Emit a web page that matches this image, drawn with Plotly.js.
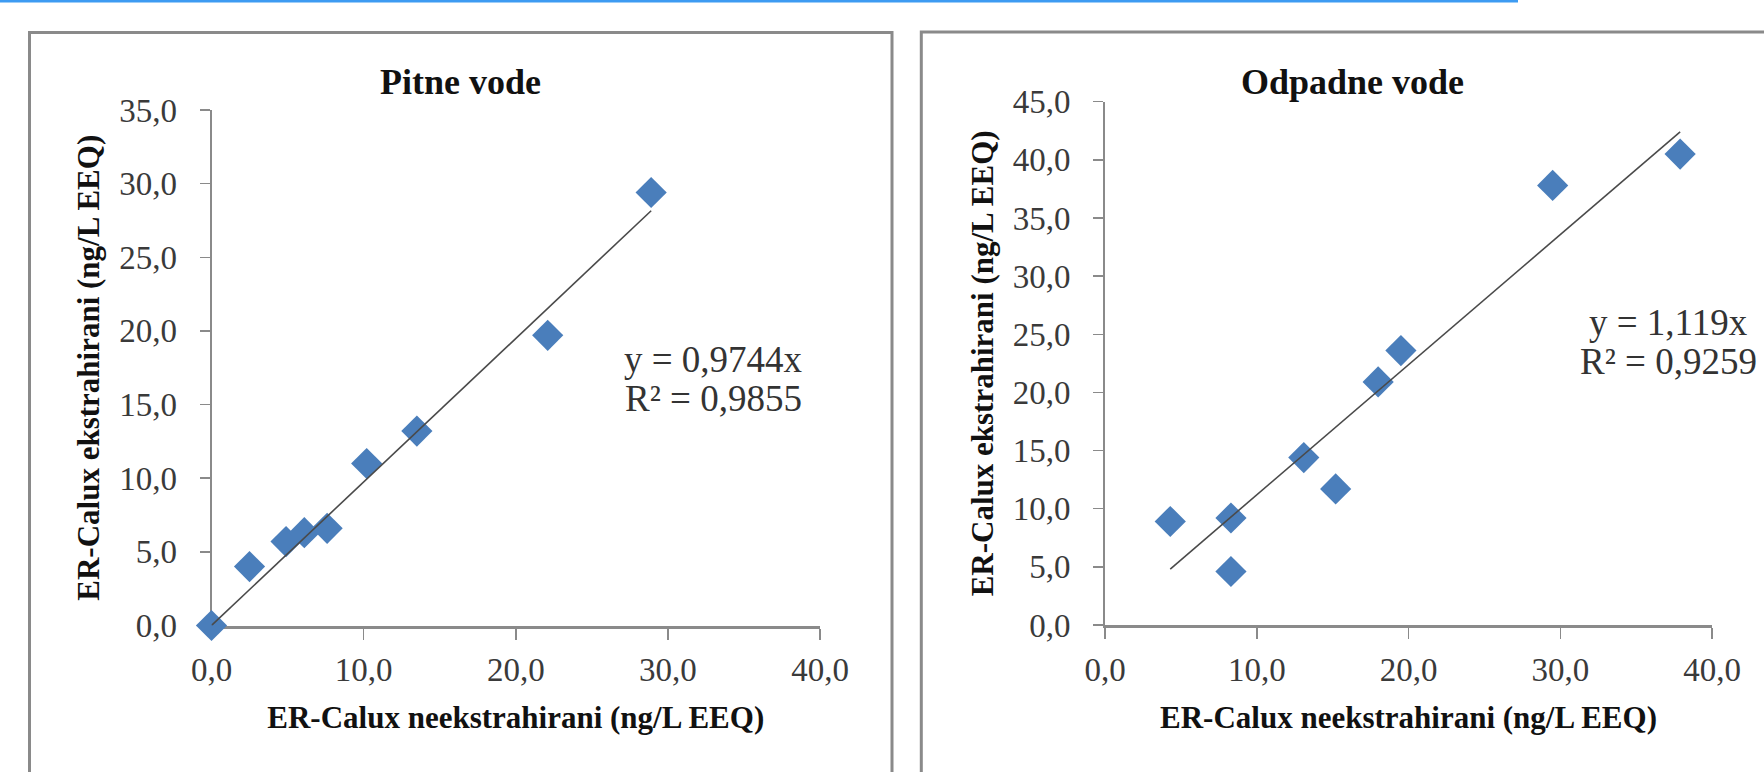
<!DOCTYPE html>
<html>
<head>
<meta charset="utf-8">
<script src="https://cdn.plot.ly/plotly-3.0.1.min.js"></script>
<style>html,body{margin:0;padding:0;background:#fff;}#chart{width:1764px;height:772px;}</style>
</head>
<body>
<div id="chart"></div>
<script>
// ---- data ----
const pitneX = [0.0, 2.5, 4.9, 6.1, 7.6, 10.2, 13.5, 22.1, 28.9];
const pitneY = [0.0, 4.0, 5.7, 6.3, 6.6, 11.0, 13.2, 19.7, 29.4];
const pitneSlope = 0.9744;
const pitneR2 = 0.9855;

const odpadneX = [4.3, 8.3, 8.3, 13.1, 15.2, 18.0, 19.5, 29.5, 37.9];
const odpadneY = [8.9, 9.2, 4.6, 14.4, 11.7, 20.9, 23.6, 37.8, 40.5];
const odpadneSlope = 1.119;
const odpadneR2 = 0.9259;

const titles = ["Pitne vode", "Odpadne vode"];
const xTitle = "ER-Calux neekstrahirani (ng/L EEQ)";
const yTitle = "ER-Calux ekstrahirani (ng/L EEQ)";
const xRange = [0, 40];
const yRangeLeft = [0, 35];
const yRangeRight = [0, 45];

// ---- helpers ----
const W = 1764, H = 772;
const px = v => v / W;
const py = v => 1 - v / H;
const fmt = (v, d) => v.toFixed(d).replace('.', ',');

function trend(xs, slope) {
  const lo = Math.min(...xs), hi = Math.max(...xs);
  return { x: [lo, hi], y: [slope * lo, slope * hi] };
}

const FONT = "'Liberation Serif', 'Times New Roman', serif";
const AX = '#8a8a8a';
const BLUE = '#4a7ebb';

const tL = trend(pitneX, pitneSlope);
const tR = trend(odpadneX, odpadneSlope);

const traces = [
  { x: pitneX, y: pitneY, xaxis: 'x', yaxis: 'y', type: 'scatter', mode: 'markers',
    marker: { symbol: 'diamond', size: 24, color: BLUE, line: { width: 0 } }, cliponaxis: false, hoverinfo: 'x+y' },
  { x: tL.x, y: tL.y, xaxis: 'x', yaxis: 'y', type: 'scatter', mode: 'lines',
    line: { color: '#4a4a4a', width: 1.6 }, cliponaxis: false, hoverinfo: 'skip' },
  { x: odpadneX, y: odpadneY, xaxis: 'x2', yaxis: 'y2', type: 'scatter', mode: 'markers',
    marker: { symbol: 'diamond', size: 24, color: BLUE, line: { width: 0 } }, cliponaxis: false, hoverinfo: 'x+y' },
  { x: tR.x, y: tR.y, xaxis: 'x2', yaxis: 'y2', type: 'scatter', mode: 'lines',
    line: { color: '#4a4a4a', width: 1.6 }, cliponaxis: false, hoverinfo: 'skip' }
];

function xAxis(domain, anchor) {
  return {
    domain: domain, anchor: anchor, range: xRange, dtick: 10, tick0: 0, tickformat: '.1f',
    showgrid: false, zeroline: false, showline: true, linecolor: AX, linewidth: 3,
    ticks: 'outside', ticklen: 11, tickwidth: 1.5, tickcolor: AX, layer: 'below traces',
    tickfont: { family: FONT, size: 33, color: '#3a3a3a' }, ticklabelstandoff: 2,
    title: { text: xTitle, font: { family: FONT, size: 31, color: '#111', weight: 'bold' }, standoff: 20 },
    automargin: false, fixedrange: true
  };
}
function yAxis(domain, anchor, range) {
  return {
    domain: domain, anchor: anchor, range: range, dtick: 5, tick0: 0, tickformat: '.1f',
    showgrid: false, zeroline: false, showline: true, linecolor: AX, linewidth: 2,
    ticks: 'outside', ticklen: 10, tickwidth: 1.5, tickcolor: AX, layer: 'below traces',
    tickfont: { family: FONT, size: 33, color: '#3a3a3a' }, ticklabelstandoff: 16,
    title: { text: yTitle, font: { family: FONT, size: 31, color: '#111', weight: 'bold' }, standoff: 10 },
    automargin: false, fixedrange: true
  };
}

const eqFont = { family: FONT, size: 37, color: '#333' };
function eqAnn(x, y, text) {
  return { xref: 'paper', yref: 'paper', x: px(x), y: py(y), xanchor: 'center', yanchor: 'middle',
    text: text, showarrow: false, font: eqFont };
}

const layout = {
  width: W, height: H,
  margin: { l: 0, r: 0, t: 0, b: 0 },
  paper_bgcolor: '#ffffff', plot_bgcolor: 'rgba(0,0,0,0)',
  showlegend: false,
  separators: ', ',
  xaxis: xAxis([px(211.5), px(820)], 'y'),
  yaxis: yAxis([py(625.5), py(110)], 'x', yRangeLeft),
  xaxis2: xAxis([px(1105), px(1712)], 'y2'),
  yaxis2: yAxis([py(625), py(101.7)], 'x2', yRangeRight),
  shapes: [
    { type: 'rect', xref: 'paper', yref: 'paper', x0: px(29.5), x1: px(892), y0: py(820), y1: py(32.5),
      line: { color: AX, width: 3 }, fillcolor: 'rgba(0,0,0,0)', layer: 'below' },
    { type: 'rect', xref: 'paper', yref: 'paper', x0: px(921.3), x1: px(1820), y0: py(820), y1: py(32),
      line: { color: AX, width: 3 }, fillcolor: 'rgba(0,0,0,0)', layer: 'below' },
    { type: 'line', xref: 'paper', yref: 'paper', x0: 0, x1: px(1518), y0: py(1), y1: py(1),
      line: { color: '#3d9bf2', width: 3 } }
  ],
  annotations: [
    { xref: 'paper', yref: 'paper', x: px(460), y: py(82), xanchor: 'center', yanchor: 'middle',
      text: titles[0], showarrow: false, font: { family: FONT, size: 36, color: '#111', weight: 'bold' } },
    { xref: 'paper', yref: 'paper', x: px(1352), y: py(82), xanchor: 'center', yanchor: 'middle',
      text: titles[1], showarrow: false, font: { family: FONT, size: 36, color: '#111', weight: 'bold' } },
    eqAnn(713, 359, 'y = ' + fmt(pitneSlope, 4) + 'x'),
    eqAnn(713, 398, 'R² = ' + fmt(pitneR2, 4)),
    eqAnn(1668, 323, 'y = ' + fmt(odpadneSlope, 3) + 'x'),
    eqAnn(1668, 361, 'R² = ' + fmt(odpadneR2, 4))
  ]
};

Plotly.newPlot('chart', traces, layout, { staticPlot: true, displayModeBar: false });
</script>
</body>
</html>
